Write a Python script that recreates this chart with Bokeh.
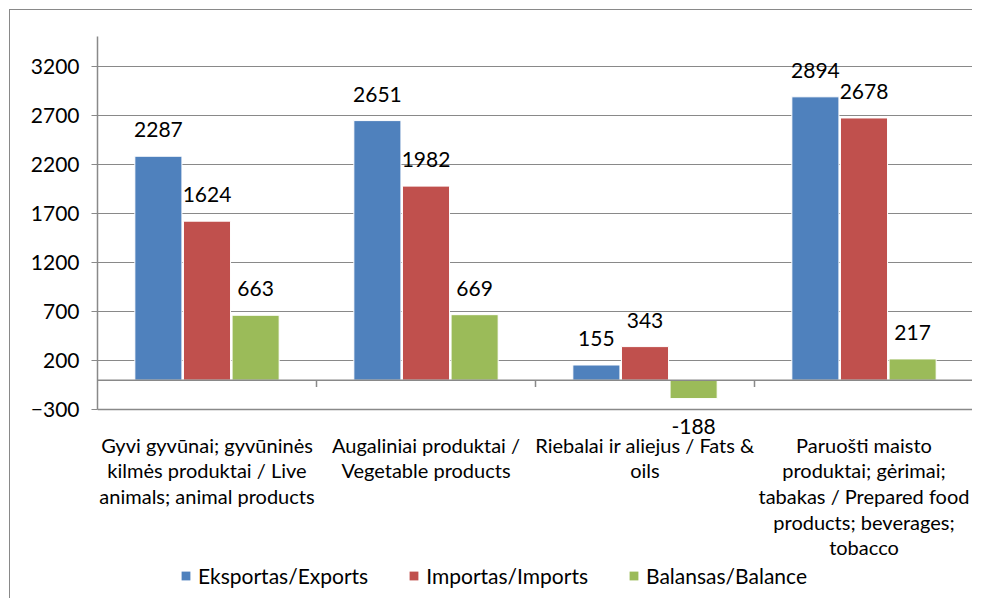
from bokeh.plotting import figure
from bokeh.layouts import column
from bokeh.models import (ColumnDataSource, FixedTicker, Span, LabelSet, Legend, LegendItem)
from bokeh.core.properties import value
from bokeh.embed import file_html
from bokeh.resources import INLINE

# ---- data ----
categories = [
    "Gyvi gyvūnai; gyvūninės\nkilmės produktai / Live\nanimals; animal products",
    "Augaliniai produktai /\nVegetable products",
    "Riebalai ir aliejus / Fats &\noils",
    "Paruošti maisto\nproduktai; gėrimai;\ntabakas / Prepared food\nproducts; beverages;\ntobacco",
]
exports = [2287, 2651, 155, 2894]
imports = [1624, 1982, 343, 2678]
balance = [663, 669, -188, 217]
series_names = ["Eksportas/Exports", "Importas/Imports", "Balansas/Balance"]
series_colors = ["#4F81BD", "#C0504D", "#9BBB59"]
y_ticks = [-300, 200, 700, 1200, 1700, 2200, 2700, 3200]
y_min, y_max = -300, 3510

FONT = "Lato"
GRAY = "#898989"

p = figure(width=963, height=553, output_backend="svg", toolbar_location=None,
           x_range=(0, len(categories)), y_range=(-565, y_max),
           min_border_left=87, min_border_right=0, min_border_top=26, min_border_bottom=128)
p.styles = {"border-left": "1px solid #898989", "border-top": "1px solid #898989"}
p.outline_line_color = None
p.background_fill_color = "white"
p.border_fill_color = "white"

# y axis (line limited to the value range)
p.yaxis.ticker = FixedTicker(ticks=y_ticks)
p.yaxis.bounds = (y_min, y_max)
p.yaxis.axis_line_color = GRAY
p.yaxis.axis_line_width = 1.5
p.yaxis.major_tick_line_color = GRAY
p.yaxis.major_tick_out = 6
p.yaxis.major_tick_in = 0
p.yaxis.minor_tick_line_color = None
p.yaxis.major_label_standoff = 12
p.yaxis.major_label_text_font = FONT
p.yaxis.major_label_text_font_size = "21px"
p.yaxis.major_label_text_color = "black"

# category axis
centers = [i + 0.5 for i in range(len(categories))]
p.xaxis.ticker = FixedTicker(ticks=centers)
p.xaxis.major_label_overrides = {c: lab for c, lab in zip(centers, categories)}
p.xaxis.axis_line_color = None
p.xaxis.major_tick_line_color = None
p.xaxis.minor_tick_line_color = None
p.xaxis.major_label_standoff = -9
p.xaxis.major_label_text_font = FONT
p.xaxis.major_label_text_font_size = "20px"
p.xaxis.major_label_text_color = "black"
p.xaxis.major_label_text_line_height = 1.07

p.xgrid.grid_line_color = None
p.ygrid.ticker = FixedTicker(ticks=y_ticks)
p.ygrid.grid_line_color = GRAY
p.ygrid.grid_line_width = 1
p.ygrid.bounds = (y_min, y_max)

# bottom line of the plot area, zero line and category separators
p.add_layout(Span(location=y_min, dimension="width", line_color=GRAY, line_width=1.5))
p.add_layout(Span(location=0, dimension="width", line_color=GRAY, line_width=1.5))
seps = list(range(1, len(categories) + 1))
p.segment(x0=seps, y0=[0] * len(seps), x1=seps, y1=[-70] * len(seps),
          line_color=GRAY, line_width=1.5)

# bars
offsets = [-0.222, 0.0, 0.222]
bar_w = 0.215
for vals, name, col, off in zip([exports, imports, balance], series_names, series_colors, offsets):
    xs = [c + off for c in centers]
    src = ColumnDataSource(dict(x=xs, top=vals, lab=[str(v) for v in vals],
                                yoff=[19 if v >= 0 else -35 for v in vals]))
    p.vbar(x="x", top="top", bottom=0, width=bar_w, source=src,
           fill_color=col, line_color="white", line_width=1)
    p.add_layout(LabelSet(x="x", y="top", text="lab", source=src, y_offset="yoff",
                          text_align="center", text_baseline="alphabetic",
                          text_font=value(FONT), text_font_size="21px", text_color="black"))

# legend strip (separate small figure below the chart)
lg = figure(width=963, height=36, output_backend="svg", toolbar_location=None,
            x_axis_location=None, y_axis_location=None, min_border=0,
            x_range=(0, 1), y_range=(0, 1))
lg.outline_line_color = None
lg.xgrid.grid_line_color = None
lg.ygrid.grid_line_color = None
lg.styles = {"border-left": "1px solid #898989"}
items = []
for name, col in zip(series_names, series_colors):
    r = lg.vbar(x=[-1], top=[-1], width=0.1, fill_color=col, line_color=None)
    items.append(LegendItem(label=name, renderers=[r]))
legend = Legend(items=items, orientation="horizontal", location=(83, 10),
                glyph_width=11, glyph_height=11, label_standoff=7, spacing=40,
                padding=0, margin=0, border_line_alpha=0, background_fill_alpha=0,
                label_text_font=FONT, label_text_font_size="21px", label_text_color="black")
lg.add_layout(legend, "center")

layout = column(p, lg, spacing=0)
layout.styles = {"margin-left": "9px", "margin-top": "9px"}
open("out.html", "w").write(file_html(layout, INLINE))
